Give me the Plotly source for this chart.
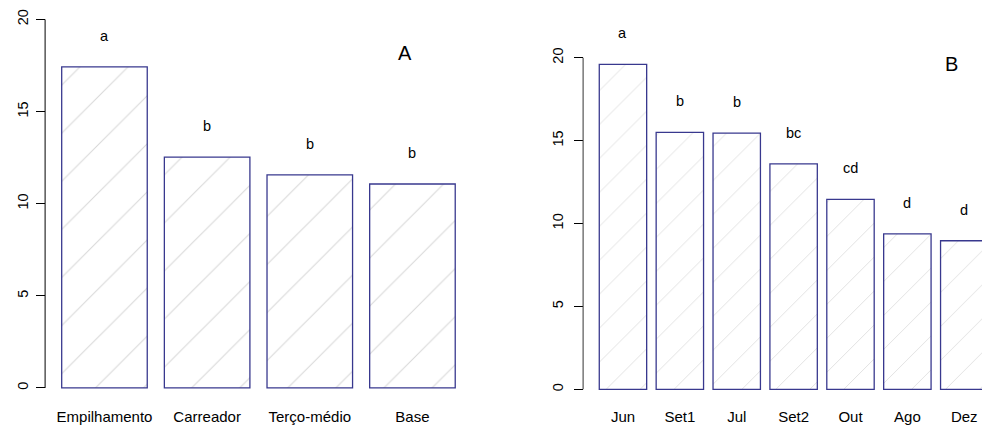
import plotly.graph_objects as go

# Panel A: position on the pile
left_cats = ["Empilhamento", "Carreador", "Terço-médio", "Base"]
left_vals = [17.43, 12.53, 11.56, 11.07]
left_letters = ["a", "b", "b", "b"]

# Panel B: sampling month
right_cats = ["Jun", "Set1", "Jul", "Set2", "Out", "Ago", "Dez"]
right_vals = [19.6, 15.5, 15.45, 13.6, 11.46, 9.37, 8.96]
right_letters = ["a", "b", "b", "bc", "cd", "d", "d"]

y_ticks = [0, 5, 10, 15, 20]

FONT = "Liberation Sans, Arial, sans-serif"
EDGE = "#38388e"
HATCH = "#b0b0b0"

fig = go.Figure()

def add_bars(cats, vals, xa, ya, size):
    fig.add_trace(go.Bar(
        x=cats, y=vals, xaxis=xa, yaxis=ya,
        marker=dict(
            color="white",
            line=dict(color=EDGE, width=1.3),
            pattern=dict(shape="/", fgcolor=HATCH, bgcolor="white",
                         size=size, solidity=0.03, fillmode="overlay"),
        ),
        showlegend=False, hoverinfo="skip",
    ))

add_bars(left_cats, left_vals, "x", "y", 34)
add_bars(right_cats, right_vals, "x2", "y2", 24)

annotations = []
for c, v, t in zip(left_cats, left_vals, left_letters):
    annotations.append(dict(x=c, y=v, xref="x", yref="y", text=t, showarrow=False,
                            yshift=31, yanchor="middle",
                            font=dict(family=FONT, size=14.5, color="black")))
for c, v, t in zip(right_cats, right_vals, right_letters):
    annotations.append(dict(x=c, y=v, xref="x2", yref="y2", text=t, showarrow=False,
                            yshift=31, yanchor="middle",
                            font=dict(family=FONT, size=14.5, color="black")))

# panel tags
annotations.append(dict(x=2.93, y=18.2, xref="x", yref="y", text="A", showarrow=False,
                        yanchor="middle", font=dict(family=FONT, size=20, color="black")))
annotations.append(dict(x=5.78, y=19.6, xref="x2", yref="y2", text="B", showarrow=False,
                        yanchor="middle", font=dict(family=FONT, size=20, color="black")))

xcommon = dict(showline=False, ticks="", showgrid=False, zeroline=False,
               tickfont=dict(family=FONT, size=15, color="black"),
               ticklabelstandoff=3, automargin=False, type="category")
ycommon = dict(showline=False, ticks="outside", ticklen=9, tickwidth=1, tickcolor="black",
               tickvals=y_ticks, showgrid=False, zeroline=False, tickangle=-90,
               tickfont=dict(family=FONT, size=14.5, color="black"),
               automargin=False)

fig.update_layout(
    width=982, height=427,
    margin=dict(l=0, r=0, t=0, b=0),
    paper_bgcolor="white", plot_bgcolor="white",
    bargap=1 / 6,
    xaxis=dict(domain=[0.0468, 0.4796], range=[-0.57, 3.57], anchor="y", **xcommon),
    xaxis2=dict(domain=[0.5942, 1.0], range=[-0.694, 6.312], anchor="y2", **xcommon),
    yaxis=dict(domain=[0.0569, 0.989], range=[-0.80, 20.8], anchor="x",
               ticklabelstandoff=2, **ycommon),
    yaxis2=dict(domain=[0.0569, 0.989], range=[-0.81, 23.2], anchor="x2",
                ticklabelstandoff=5, **ycommon),
    annotations=annotations,
    shapes=[
        # y axis lines drawn only across the tick span, R style
        dict(type="line", xref="x domain", yref="y", x0=-0.002, x1=-0.002,
             y0=y_ticks[0], y1=y_ticks[-1], line=dict(color="black", width=1)),
        dict(type="line", xref="x2 domain", yref="y2", x0=-0.001, x1=-0.001,
             y0=y_ticks[0], y1=y_ticks[-1], line=dict(color="#333333", width=1)),
    ],
)

fig.write_html("out.html")
